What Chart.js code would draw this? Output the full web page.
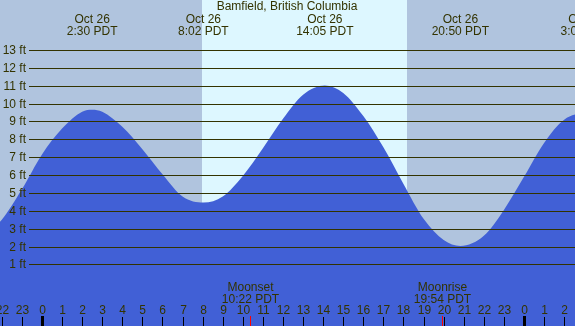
<!DOCTYPE html>
<html lang="en">

<head>
    <meta charset="UTF-8">
    <title>Bamfield, British Columbia tides</title>
    <script src="https://cdn.jsdelivr.net/npm/chart.js"></script>
    <style>
        body { margin: 0; background: #b0c4de; }
        #wrap { width: 575px; height: 326px; }
    </style>
</head>

<body>
    <div id="wrap"><canvas id="tideChart" width="575" height="326"></canvas></div>
    <script>
        // tide heights (hours since midnight Oct 26)
        var tideHours = [-3, -2, -1, 0, 1, 2, 2.5, 3, 4, 5, 6, 7, 8.05, 9, 10, 11, 12, 13, 14.08, 15, 16, 17, 18, 19, 20, 20.83, 22, 23, 24, 25, 26, 27.08, 28];
        var tideFeet = [2.5, 3.5, 5.2, 7.15, 8.6, 9.55, 9.66, 9.55, 8.7, 7.45, 6.05, 4.8, 4.46, 4.8, 5.95, 7.5, 9.15, 10.5, 11.02, 10.6, 9.3, 7.55, 5.5, 3.55, 2.36, 2.03, 2.6, 4.05, 5.9, 7.8, 9.1, 9.45, 9.1];

        // high / low labels along the top
        var extremeHours = [2.5, 8.033, 14.083, 20.833, 27.083];
        var extremeDates = ['Oct 26', 'Oct 26', 'Oct 26', 'Oct 26', 'Oct 27'];
        var extremeTimes = ['2:30 PDT', '8:02 PDT', '14:05 PDT', '20:50 PDT', '3:05 PDT'];

        // y axis ticks (feet)
        var feetTicks = [1, 2, 3, 4, 5, 6, 7, 8, 9, 10, 11, 12, 13];

        // bottom hour ticks
        var hourTicks = [-2, -1, 0, 1, 2, 3, 4, 5, 6, 7, 8, 9, 10, 11, 12, 13, 14, 15, 16, 17, 18, 19, 20, 21, 22, 23, 24, 25, 26];
        var hourLabels = ['22', '23', '0', '1', '2', '3', '4', '5', '6', '7', '8', '9', '10', '11', '12', '13', '14', '15', '16', '17', '18', '19', '20', '21', '22', '23', '0', '1', '2'];

        // daylight and moon
        var sunrise = 7.97, sunset = 18.16;
        var moonHours = [10.367, 19.9];
        var moonNames = ['Moonset', 'Moonrise'];
        var moonTimes = ['10:22 PDT', '19:54 PDT'];

        var ink = '#333300';
        var font = '12px "Liberation Sans", Arial, sans-serif';

        var points = tideHours.map(function (h, i) { return { x: h, y: tideFeet[i] }; });

        var tidePlugin = {
            id: 'tideDecor',
            beforeDatasetsDraw: function (chart) {
                var ctx = chart.ctx, a = chart.chartArea, xs = chart.scales.x;
                ctx.save();
                ctx.fillStyle = '#b0c4de';
                ctx.fillRect(a.left, a.top, a.right - a.left, a.bottom - a.top);
                var x1 = Math.round(xs.getPixelForValue(sunrise));
                var x2 = Math.round(xs.getPixelForValue(sunset));
                ctx.fillStyle = '#ddf7ff';
                ctx.fillRect(x1, a.top, x2 - x1, a.bottom - a.top);
                ctx.restore();
            },
            afterDatasetsDraw: function (chart) {
                var ctx = chart.ctx, a = chart.chartArea, xs = chart.scales.x, ys = chart.scales.y;
                ctx.save();
                ctx.font = font;
                ctx.fillStyle = ink;
                ctx.strokeStyle = ink;
                ctx.lineWidth = 1;

                // feet grid + labels
                feetTicks.forEach(function (f) {
                    var y = Math.round(ys.getPixelForValue(f)) + 0.5;
                    ctx.beginPath();
                    ctx.moveTo(29, y);
                    ctx.lineTo(a.right, y);
                    ctx.stroke();
                    ctx.textAlign = 'right';
                    ctx.textBaseline = 'middle';
                    ctx.fillText(f + ' ft', 26, y);
                });

                // title and high/low labels
                ctx.textAlign = 'center';
                ctx.textBaseline = 'middle';
                ctx.fillText('Bamfield, British Columbia', 287, 7);
                extremeHours.forEach(function (h, i) {
                    var x = xs.getPixelForValue(h);
                    ctx.fillText(extremeDates[i], x, 19.5);
                    ctx.fillText(extremeTimes[i], x, 31.5);
                });

                // hour ticks along the bottom
                hourTicks.forEach(function (h, i) {
                    var x = Math.round(xs.getPixelForValue(h));
                    var mid = hourLabels[i] === '0';
                    ctx.fillStyle = '#000000';
                    if (mid) ctx.fillRect(x - 1, 316, 3, 10);
                    else ctx.fillRect(x, 317, 1, 9);
                    ctx.fillStyle = ink;
                    ctx.fillText(hourLabels[i], x + 0.5, 311);
                });

                // moon events
                moonHours.forEach(function (h, i) {
                    var x = Math.round(xs.getPixelForValue(h));
                    ctx.fillStyle = '#ff0000';
                    ctx.fillRect(x, 316, 1, 10);
                    ctx.fillStyle = ink;
                    ctx.fillText(moonNames[i], x + 0.5, 287.5);
                    ctx.fillText(moonTimes[i], x + 0.5, 299.5);
                });
                ctx.restore();
            }
        };

        var tideCtx = document.getElementById('tideChart').getContext('2d');
        var tideChart = new Chart(tideCtx, {
            type: 'line',
            data: {
                datasets: [{
                    label: 'Tide (ft)',
                    data: points,
                    fill: 'start',
                    backgroundColor: 'rgb(65, 96, 214)',
                    borderWidth: 0,
                    pointRadius: 0,
                    cubicInterpolationMode: 'monotone'
                }]
            },
            options: {
                responsive: false,
                animation: false,
                layout: { padding: 0 },
                plugins: { legend: { display: false }, tooltip: { enabled: false } },
                scales: {
                    x: { type: 'linear', min: -2.09, max: 26.54, display: false },
                    y: { min: -2.45, max: 15.8, display: false }
                }
            },
            plugins: [tidePlugin]
        });
    </script>
</body>

</html>
